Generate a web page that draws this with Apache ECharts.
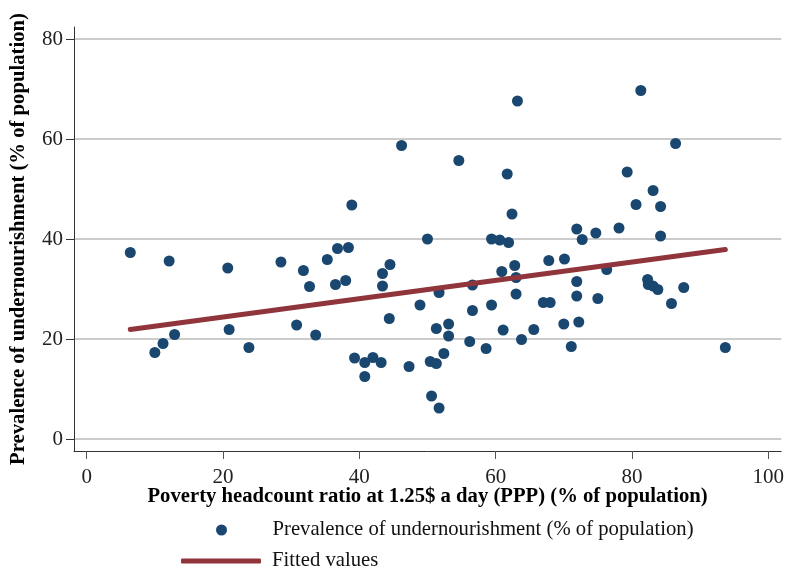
<!DOCTYPE html>
<html>
<head>
<meta charset="utf-8">
<script src="https://cdn.jsdelivr.net/npm/echarts@6/dist/echarts.min.js"></script>
<style>html,body{margin:0;padding:0;background:#fff}#c{width:787px;height:567px}</style>
</head>
<body>
<div id="c"></div>
<script>
// Poverty headcount ratio (x) and prevalence of undernourishment (y)
var povertyX = [6.4,10.0,11.2,12.1,12.9,20.7,20.9,23.8,28.5,30.8,31.8,32.7,33.6,35.3,36.5,36.8,38.0,38.4,38.9,39.3,
  40.8,40.8,42.0,43.2,43.4,43.4,44.5,44.4,46.2,47.3,48.9,50.0,50.4,50.6,51.3,51.3,51.7,51.7,52.4,53.1,
  53.1,54.6,56.2,56.6,56.6,58.6,59.4,59.4,60.6,60.9,61.1,61.7,61.9,62.4,62.8,63.0,63.0,63.2,63.8,65.6,
  67.0,67.8,68.0,70.0,70.1,71.1,71.9,71.9,71.9,72.2,72.7,74.7,75.0,76.3,78.1,79.3,80.6,81.3,82.3,82.4,
  83.1,83.1,83.8,84.2,84.2,85.8,86.4,87.6,93.7];
var undernourY = [37.3,17.3,19.1,35.6,20.9,34.2,21.9,18.3,35.4,22.8,33.7,30.5,20.8,35.9,30.9,38.1,31.7,38.3,46.8,16.2,
  15.3,12.5,16.3,15.3,33.1,30.6,34.9,24.1,58.7,14.5,26.8,40.0,15.5,8.6,15.1,22.1,6.2,29.3,17.1,23.0,
  20.6,55.7,19.5,30.8,25.7,18.1,40.0,26.8,39.8,33.5,21.8,53.0,39.3,45.0,34.7,32.3,29.0,67.6,19.9,21.9,
  27.3,35.7,27.3,23.0,36.0,18.5,42.0,31.5,28.6,23.4,39.9,41.2,28.1,33.9,42.2,53.4,46.9,69.7,31.9,30.9,
  49.7,30.6,29.9,46.5,40.6,27.1,59.1,30.3,18.3];
// Fitted line endpoints
var fitX = [6.4, 93.7];
var fitY = [21.9, 37.9];
var xTicks = [0, 20, 40, 60, 80, 100];
var yTicks = [0, 20, 40, 60, 80];
var seriesNames = ['Prevalence of undernourishment (% of population)', 'Fitted values'];
var xTitle = 'Poverty headcount ratio at 1.25$ a day (PPP) (% of population)';
var yTitle = 'Prevalence of undernourishment (% of population)';

var font = 'Liberation Serif';
var scatterData = povertyX.map(function (x, i) { return [x, undernourY[i]]; });
var fitData = fitX.map(function (x, i) { return [x, fitY[i]]; });

var legendText = {fontFamily: font, fontSize: 20.7, lineHeight: 22, color: '#111', padding: [0, 0, 0, 6]};

var chart = echarts.init(document.getElementById('c'), null, {renderer: 'canvas'});
chart.setOption({
  backgroundColor: '#ffffff',
  animation: false,
  textStyle: {fontFamily: font},
  grid: {left: 73, right: 5, top: 27, bottom: 116, containLabel: false},
  xAxis: {
    type: 'value', min: -1.86, max: 101.9,
    name: xTitle, nameLocation: 'middle', nameGap: 35, nameMoveOverlap: false,
    nameTextStyle: {fontFamily: font, fontSize: 20.7, fontWeight: 'bold', color: '#000'},
    axisLine: {show: true, onZero: false, lineStyle: {color: '#333', width: 1}},
    axisTick: {show: true, length: 8, customValues: xTicks, lineStyle: {color: '#555'}},
    axisLabel: {customValues: xTicks, fontFamily: font, fontSize: 21, color: '#222', margin: 16},
    splitLine: {show: false}
  },
  yAxis: {
    type: 'value', min: -2.4, max: 82.4,
    name: yTitle, nameLocation: 'middle', nameGap: 45, nameMoveOverlap: false,
    nameTextStyle: {fontFamily: font, fontSize: 20.7, fontWeight: 'bold', color: '#000'},
    axisLine: {show: true, onZero: false, lineStyle: {color: '#333', width: 1}},
    axisTick: {show: true, length: 8, customValues: yTicks, lineStyle: {color: '#333'}},
    axisLabel: {customValues: yTicks, fontFamily: font, fontSize: 21, color: '#222', margin: 11},
    splitLine: {show: true, lineStyle: {color: '#cccccc', width: 2}}
  },
  legend: [
    {
      left: 211, top: 514, itemWidth: 80, itemHeight: 11,
      textStyle: legendText,
      data: [{name: seriesNames[0], icon: 'circle'}]
    },
    {
      left: 176, top: 545, itemWidth: 80, itemHeight: 5,
      textStyle: legendText,
      data: [{name: seriesNames[1], icon: 'roundRect'}]
    }
  ],
  series: [
    {
      name: seriesNames[0], type: 'scatter', data: scatterData,
      symbol: 'circle', symbolSize: 11,
      itemStyle: {color: '#1a476f', opacity: 1}
    },
    {
      name: seriesNames[1], type: 'line', data: fitData,
      symbol: 'none', z: 3,
      lineStyle: {color: '#90353b', width: 5, cap: 'round'},
      itemStyle: {color: '#90353b'}
    }
  ]
});
</script>
</body>
</html>
